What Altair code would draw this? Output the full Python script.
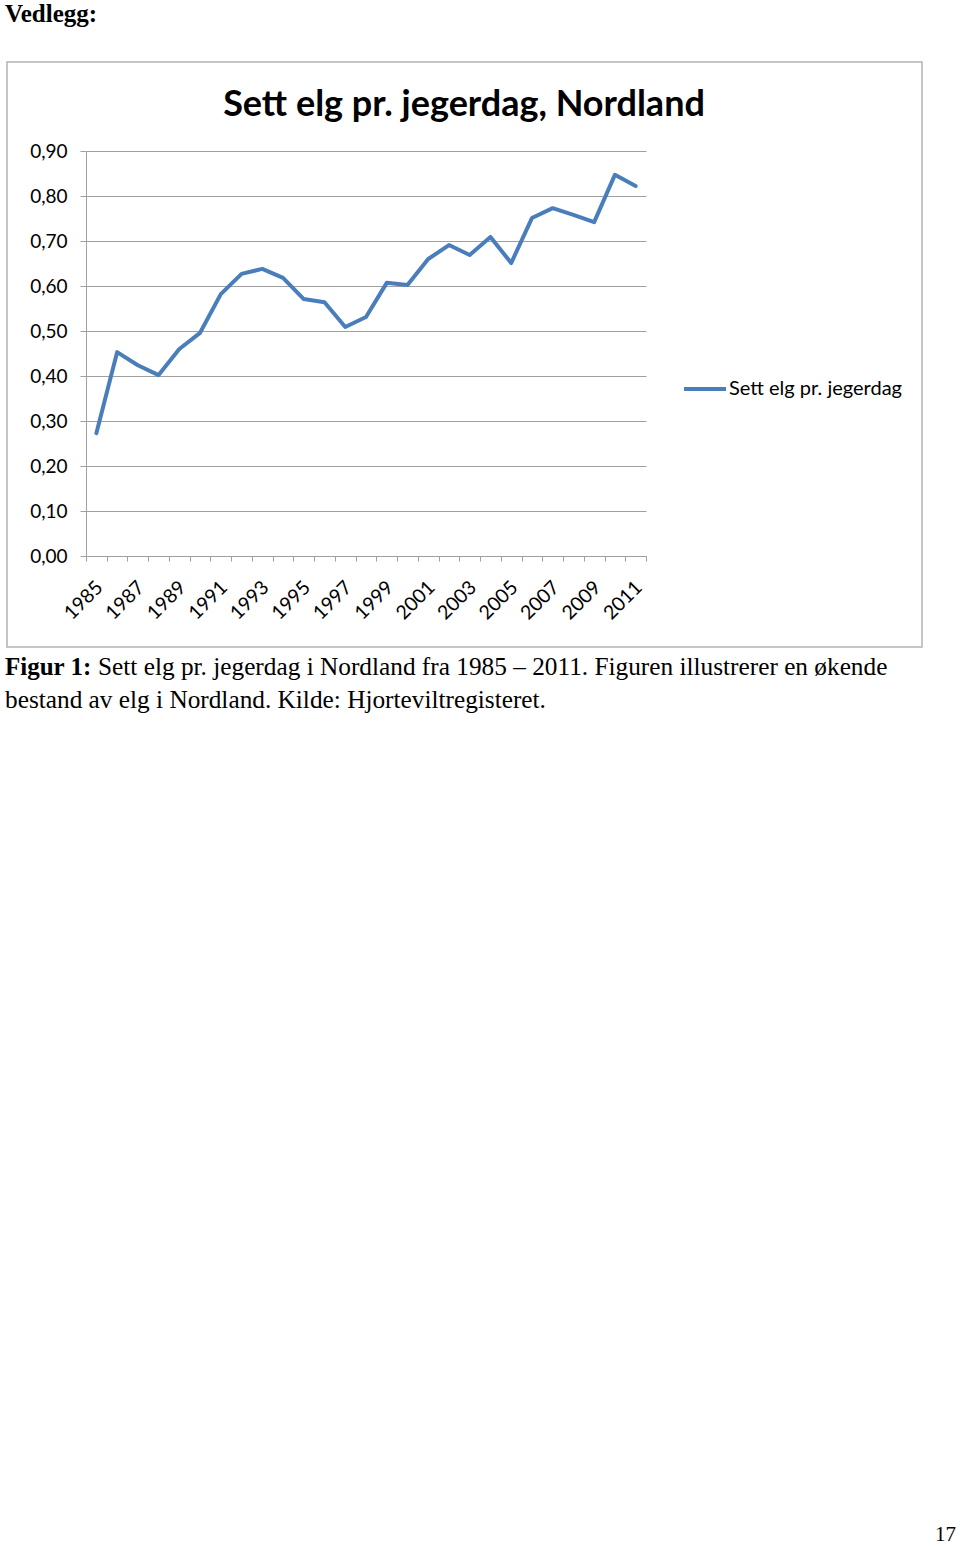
import altair as alt
import pandas as pd

# ---- data ----
years = ["1985", "1986", "1987", "1988", "1989", "1990", "1991", "1992", "1993",
         "1994", "1995", "1996", "1997", "1998", "1999", "2000", "2001", "2002",
         "2003", "2004", "2005", "2006", "2007", "2008", "2009", "2010", "2011"]
values = [0.273, 0.453, 0.424, 0.402, 0.460, 0.496, 0.582, 0.627, 0.638,
          0.618, 0.571, 0.564, 0.509, 0.531, 0.607, 0.602, 0.660, 0.691,
          0.669, 0.709, 0.651, 0.751, 0.773, 0.758, 0.742, 0.847, 0.822]
series_name = "Sett elg pr. jegerdag"
y_ticks = [0.0, 0.1, 0.2, 0.3, 0.4, 0.5, 0.6, 0.7, 0.8, 0.9]

chart_title = "Sett elg pr. jegerdag, Nordland"
page_heading = "Vedlegg:"
caption_bold = "Figur 1:"
caption_line1 = "Sett elg pr. jegerdag i Nordland fra 1985 \u2013 2011. Figuren illustrerer en økende"
caption_line2 = "bestand av elg i Nordland. Kilde: Hjorteviltregisteret."
page_number = "17"

df = pd.DataFrame({"year": years, "value": values, "series": [series_name] * len(years)})

# plot origin on the page
OX, OY = 86, 151
W, H = 560, 405

SANS = "Lato"
SERIF = "Liberation Serif"
GRID = "#a0a0a0"
BLUE = "#4A7EBB"

line = alt.Chart(df).mark_line(strokeWidth=4, strokeJoin="round", strokeCap="round").encode(
    x=alt.X("year:O", sort=years,
            scale=alt.Scale(type="band", paddingInner=0, paddingOuter=0),
            axis=alt.Axis(title=None, tickBand="extent", tickSize=5, tickColor=GRID,
                          domainColor=GRID, grid=False, labelAngle=-45,
                          labelAlign="right", labelBaseline="middle", labelPadding=23,
                          labelOffset=3, labelOverlap=False,
                          labelExpr="toNumber(datum.value) % 2 == 1 ? datum.value : ''",
                          labelFont=SANS, labelFontSize=19.5, labelColor="#000")),
    y=alt.Y("value:Q",
            scale=alt.Scale(domain=[0, 0.9], nice=False, zero=True),
            axis=alt.Axis(title=None, values=y_ticks, tickSize=6, tickColor=GRID,
                          domainColor=GRID, gridColor=GRID, grid=True,
                          labelExpr="replace(format(datum.value, '.2f'), '.', ',')",
                          labelPadding=13, labelFont=SANS, labelFontSize=19,
                          labelColor="#000")),
    color=alt.Color("series:N",
                    scale=alt.Scale(domain=[series_name], range=[BLUE]),
                    legend=alt.Legend(title=None, orient="none", legendX=596, legendY=215,
                                      symbolType="stroke", symbolSize=1764,
                                      symbolStrokeWidth=4, labelOffset=1, padding=0,
                                      labelLimit=400,
                                      labelFont=SANS, labelFontSize=20,
                                      labelColor="#000")),
)


def text_layer(txt, px, py, font, size, weight="normal", align="left"):
    d = pd.DataFrame({"t": [txt]})
    return alt.Chart(d).mark_text(font=font, fontSize=size, fontWeight=weight,
                                  align=align, baseline="alphabetic", color="#000").encode(
        text="t:N", x=alt.value(px - OX), y=alt.value(py - OY))


border = alt.Chart(pd.DataFrame({"b": [1]})).mark_rect(
    fill=None, stroke="#b3b3b3", strokeWidth=1.5).encode(
    x=alt.value(7 - OX), x2=alt.value(922 - OX),
    y=alt.value(62 - OY), y2=alt.value(647 - OY))

layers = [
    border,
    line,
    text_layer(chart_title, 464, 116, SANS, 36, "bold", "center"),
    text_layer(page_heading, 5, 22, SERIF, 25, "bold"),
    text_layer(caption_bold, 5, 675, SERIF, 25, "bold"),
    text_layer(caption_line1, 98, 675, SERIF, 25.3),
    text_layer(caption_line2, 5, 708, SERIF, 25.3),
    text_layer(page_number, 956, 1541, SERIF, 21, "normal", "right"),
]

chart = alt.layer(*layers).properties(
    width=W, height=H,
    autosize=alt.AutoSizeParams(type="none"),
    padding={"left": OX, "top": OY, "right": 960 - OX - W, "bottom": 1547 - OY - H},
    background="white",
).configure_view(stroke=None)

chart.save("out.html", embed_options={"renderer": "svg", "actions": False})
